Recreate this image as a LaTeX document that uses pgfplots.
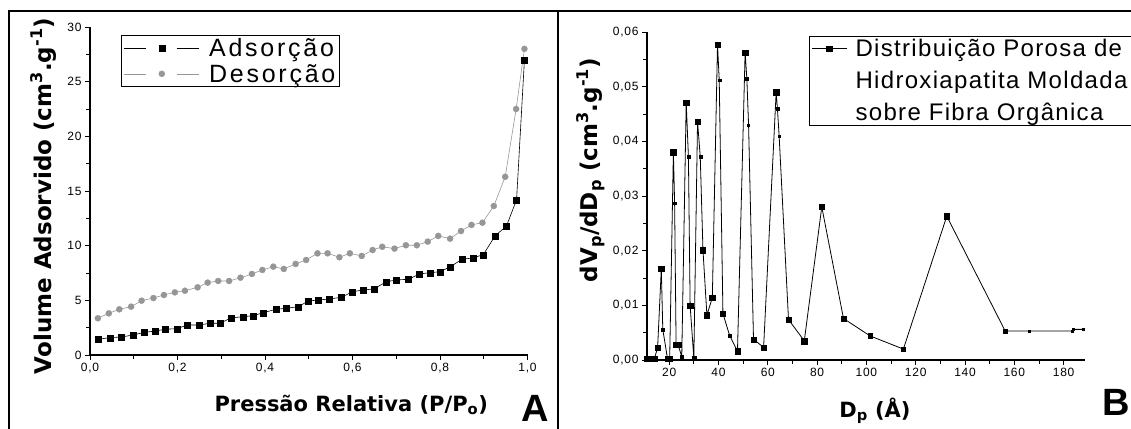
\documentclass[border=0pt]{standalone}
\usepackage{fontspec}
\setmainfont{Liberation Sans}
\newfontfamily\labfont{DejaVu Sans}
\newfontfamily\tickfont{Liberation Sans}[LetterSpace=6]
\newfontfamily\legAfont{Liberation Sans}[LetterSpace=11]
\newfontfamily\legBfont{Liberation Sans}[LetterSpace=5.5]
\usepackage{pgfplots}
\usepackage{pgfplotstable}
\pgfplotsset{compat=1.18}

\definecolor{desorb}{RGB}{150,150,150}

% isotherm, adsorption branch
\pgfplotstableread{
p v
0.019 1.44
0.046 1.59
0.072 1.65
0.099 1.83
0.124 2.07
0.149 2.19
0.171 2.35
0.198 2.41
0.223 2.74
0.249 2.74
0.274 2.90
0.297 2.90
0.323 3.40
0.350 3.50
0.373 3.60
0.396 3.87
0.425 4.18
0.448 4.27
0.476 4.42
0.499 4.94
0.522 5.03
0.546 5.12
0.575 5.28
0.600 5.79
0.625 5.95
0.649 6.04
0.677 6.70
0.700 6.86
0.728 6.93
0.753 7.41
0.777 7.53
0.800 7.62
0.824 8.08
0.850 8.75
0.875 8.88
0.899 9.18
0.926 10.9
0.952 11.8
0.975 14.2
0.993 27.0
}\adsorcao

% desorption branch
\pgfplotstableread{
p v
0.018 3.36
0.043 3.81
0.067 4.18
0.094 4.42
0.118 4.97
0.145 5.21
0.169 5.49
0.194 5.73
0.217 5.88
0.246 6.19
0.269 6.62
0.293 6.77
0.318 6.77
0.344 7.07
0.370 7.41
0.394 7.78
0.419 8.08
0.443 7.87
0.470 8.33
0.494 8.69
0.520 9.30
0.543 9.30
0.570 8.94
0.594 9.30
0.621 9.06
0.646 9.60
0.668 9.90
0.696 9.73
0.722 10.04
0.747 10.04
0.772 10.37
0.796 10.89
0.823 10.64
0.848 11.34
0.872 11.90
0.897 12.10
0.923 13.63
0.949 16.30
0.974 22.50
0.993 28.00
}\desorcao

% pore size distribution, s = marker size
\pgfplotstableread{
d f s
11.0 0.0003 2.6
12.5 0.0003 2.6
14.0 0.0003 2.6
15.3 0.0022 2.6
16.8 0.0167 2.8
17.4 0.0056 1.4
19.3 0.0003 2.6
20.2 0.0003 2.6
21.7 0.0380 2.8
22.2 0.0287 1.4
22.8 0.0028 2.6
23.6 0.0028 2.6
25.1 0.0006 1.4
26.9 0.0471 2.8
27.8 0.0372 1.4
28.5 0.0099 2.6
30.0 0.0003 2.0
31.5 0.0436 2.8
32.6 0.0372 1.4
33.7 0.0201 2.6
35.3 0.0082 2.6
37.5 0.0114 2.8
39.6 0.0577 2.8
40.3 0.0512 1.4
41.8 0.0085 2.6
44.5 0.0045 1.4
47.7 0.0016 2.8
50.8 0.0563 2.6
51.5 0.0515 1.4
52.2 0.0430 1.0
54.2 0.0038 2.6
58.3 0.0023 2.6
63.4 0.0490 2.6
63.9 0.0460 1.4
64.6 0.0410 1.0
68.4 0.0074 2.8
74.8 0.0035 2.8
81.9 0.0280 2.4
90.7 0.0076 2.8
101.5 0.0044 2.4
115.0 0.0020 2.2
132.6 0.0263 2.8
156.3 0.0053 2.0
165.8 0.0053 1.0
183.5 0.0053 1.0
184.0 0.0056 1.0
188.0 0.0056 1.0
}\poros

\pgfplotsset{
  panel/.style={
    scale only axis,
    axis lines*=left,
    xtick pos=left, ytick pos=left,
    axis line style={line width=1.1pt},
    tick style={line width=0.9pt, black},
    tick align=outside,
    major tick length=5pt,
    minor tick length=4pt,
    tick label style={font=\tickfont\fontsize{12}{13}\selectfont},
    /pgf/number format/assume math mode=true,
    label style={font=\labfont\bfseries\fontsize{21}{24}\selectfont, inner sep=0pt},
    clip=false,
  }
}

\begin{document}
\begin{tikzpicture}[x=1pt,y=1pt]
\useasboundingbox (0,0) rectangle (1131,428);
\clip (0,0) rectangle (1131,428);

% panel frames
\draw[line width=1.2pt] (9,-20) -- (9,417) -- (1150,417);
\draw[line width=1.2pt] (558,-20) -- (558,417);

% ---- A: isotherm
\begin{axis}[panel,
  at={(90pt,73pt)}, anchor=south west,
  width=437.5pt, height=328pt,
  xmin=0, xmax=1, ymin=0, ymax=30,
  xtick={0,0.2,0.4,0.6,0.8,1}, minor x tick num=1,
  ytick={0,5,10,15,20,25,30}, minor y tick num=1,
  xticklabel style={/pgf/number format/.cd, fixed, fixed zerofill, precision=1, use comma},
  xlabel={Pressão Relativa (P/P\textsubscript{o})},
  xlabel style={at={(axis description cs:0.597,-0.122)}, anchor=north},
  ylabel={Volume Adsorvido (cm\textsuperscript{3}.g\textsuperscript{-1})},
  ylabel style={at={(axis description cs:-0.107,0.485)}, anchor=center,
    font=\labfont\bfseries\fontsize{23}{24}\selectfont},
  legend style={at={(axis description cs:0.0709,0.9756)}, anchor=north west,
    draw=black, line width=1pt, inner xsep=2pt, inner ysep=1pt,
    font=\legAfont\fontsize{25}{28}\selectfont, row sep=2pt,
    /tikz/every odd column/.append style={column sep=8pt}},
  legend cell align=left,
  legend image code/.code={
    \draw[#1, mark=none] (0pt,0pt) -- (22pt,0pt);
    \path[#1] plot coordinates {(38pt,0pt)};
    \draw[#1, mark=none] (53pt,0pt) -- (75pt,0pt);
  },
]
\addplot[black, line width=0.6pt, mark=square*, mark size=3pt,
  mark options={line width=0.2pt}] table[x=p, y=v] {\adsorcao};
\addlegendentry{Adsorção}
\addplot[desorb, line width=0.6pt, mark=*, mark size=3.1pt,
  mark options={line width=0.2pt}] table[x=p, y=v] {\desorcao};
\addlegendentry{Desorção}
\end{axis}

% ---- B: pore distribution
\begin{axis}[panel,
  at={(647pt,68pt)}, anchor=south west,
  width=438.3pt, height=328pt,
  xmin=11, xmax=188.8, ymin=0, ymax=0.06,
  xtick={20,40,60,80,100,120,140,160,180}, minor x tick num=1,
  ytick={0,0.01,0.02,0.03,0.04,0.05,0.06}, minor y tick num=1,
  scaled y ticks=false,
  yticklabel style={/pgf/number format/.cd, fixed, fixed zerofill, precision=2, use comma},
  xlabel={D\textsubscript{p} (Å)},
  xlabel style={at={(axis description cs:0.52,-0.116)}, anchor=north},
  ylabel={dV\textsubscript{p}/dD\textsubscript{p} (cm\textsuperscript{3}.g\textsuperscript{-1})},
  ylabel style={at={(axis description cs:-0.128,0.579)}, anchor=center,
    font=\labfont\bfseries\fontsize{23}{24}\selectfont},
  legend style={at={(axis description cs:0.37,0.988)}, anchor=north west,
    draw=black, line width=1pt, inner xsep=2pt, inner ysep=1pt,
    font=\legBfont\fontsize{24}{32}\selectfont, cells={align=left},
    /tikz/every odd column/.append style={column sep=6pt}},
]
\addplot[black, line width=0.8pt, mark=square*,
  scatter, scatter/use mapped color={draw=black, fill=black},
  mark options={line width=0.2pt},
  visualization depends on={\thisrow{s} \as \msize},
  scatter/@pre marker code/.append style={/tikz/mark size=\msize},
  forget plot] table[x=d, y=f] {\poros};
\addlegendimage{legend image code/.code={
  \path (0pt,-32pt) (0pt,32pt);
  \draw[black, line width=0.8pt] (0pt,32pt) -- (35pt,32pt);
  \fill[black] (14.7pt,29.2pt) rectangle (20.3pt,34.8pt);}}
\addlegendentry{Distribuição Porosa de\\Hidroxiapatita Moldada\phantom{MM}\\sobre Fibra Orgânica}
\end{axis}

\node[font=\fontsize{38}{38}\selectfont\bfseries] at (535.5,20) {A};
\node[font=\fontsize{38}{38}\selectfont\bfseries] at (1116,26) {B};
\end{tikzpicture}
\end{document}
